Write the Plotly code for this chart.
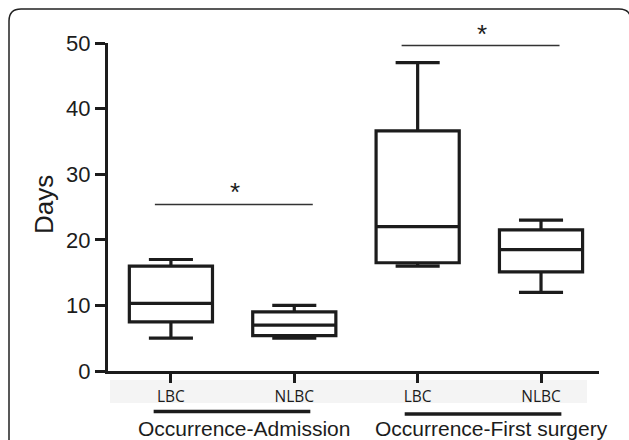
import plotly.graph_objects as go

# ---- data ----
categories = ["LBC", "NLBC", "LBC", "NLBC"]
groups = ["Occurrence-Admission", "Occurrence-First surgery"]
lower_whisker = [5.0, 5.0, 16.0, 12.0]
q1_values = [7.5, 5.4, 16.5, 15.1]
median_values = [10.3, 7.0, 22.0, 18.5]
q3_values = [16.0, 9.0, 36.6, 21.5]
upper_whisker = [17.0, 10.0, 47.0, 23.0]
sig_heights = [25.4, 49.6]
sig_labels = ["*", "*"]
y_ticks = [0, 10, 20, 30, 40, 50]

positions = list(range(1, len(categories) + 1))
INK = "#1c1c1c"

W, H = 629, 440
ML, MR, MT, MB = 108, 30, 43, 69
PW, PH = W - ML - MR, H - MT - MB


def px_x(px):
    return (px - ML) / PW


def px_y(py):
    return (H - MB - py) / PH


fig = go.Figure()
fig.add_trace(go.Box(
    x=positions,
    q1=q1_values, median=median_values, q3=q3_values,
    lowerfence=lower_whisker, upperfence=upper_whisker,
    width=0.674, whiskerwidth=0.53,
    fillcolor="white",
    line=dict(color=INK, width=3.2),
    boxpoints=False, showlegend=False, hoverinfo="skip",
))

shapes = []
annotations = []

# significance lines
for g, (h, lab) in enumerate(zip(sig_heights, sig_labels)):
    a, b = positions[2 * g], positions[2 * g + 1]
    shapes.append(dict(type="line", xref="x", yref="y",
                       x0=a - 0.13, x1=b + 0.15, y0=h, y1=h,
                       line=dict(color="#333333", width=1.5)))
    annotations.append(dict(x=(a + b) / 2 + 0.02, y=h, xref="x", yref="y",
                            text=lab, showarrow=False, yanchor="bottom",
                            xanchor="center", yshift=-5,
                            font=dict(family="Liberation Sans, Arial", size=26, color=INK)))

# group underlines and labels
under_y = [px_y(411.5), px_y(414)]
for g, name in enumerate(groups):
    a, b = positions[2 * g], positions[2 * g + 1]
    off = 0.0 if g == 0 else 0.035
    shapes.append(dict(type="line", xref="x", yref="paper",
                       x0=a - 0.14 + off, x1=b + 0.13 + off, y0=under_y[g], y1=under_y[g],
                       line=dict(color=INK, width=3.5)))
    annotations.append(dict(x=(a + b) / 2 + (0.09 if g == 0 else 0.1), y=px_y(428),
                            xref="x", yref="paper", text=name, showarrow=False,
                            xanchor="center", yanchor="middle",
                            font=dict(family="Liberation Sans, Arial", size=21, color=INK)))

# faint band behind category labels
shapes.append(dict(type="rect", xref="paper", yref="paper", layer="below",
                   x0=px_x(110), x1=px_x(587), y0=px_y(403), y1=px_y(380),
                   fillcolor="#f4f4f4", line=dict(width=0)))

# rounded frame
r = 12
l, t, rr, bb = 9, 9, 631, 446
path = (f"M {px_x(l)} {px_y(bb)} L {px_x(l)} {px_y(t + r)} "
        f"Q {px_x(l)} {px_y(t)} {px_x(l + r)} {px_y(t)} "
        f"L {px_x(rr - r)} {px_y(t)} Q {px_x(rr)} {px_y(t)} {px_x(rr)} {px_y(t + r)} "
        f"L {px_x(rr)} {px_y(bb)} Z")
shapes.append(dict(type="path", xref="paper", yref="paper", path=path,
                   line=dict(color="#222222", width=1.5)))

# y-axis title
annotations.append(dict(x=px_x(44), y=px_y(205), xref="paper", yref="paper",
                        text="Days", textangle=-90, showarrow=False,
                        xanchor="center", yanchor="middle",
                        font=dict(family="Liberation Sans, Arial", size=26, color=INK)))

fig.update_layout(
    width=W, height=H,
    margin=dict(l=ML, r=MR, t=MT, b=MB, pad=0),
    paper_bgcolor="white", plot_bgcolor="white",
    shapes=shapes, annotations=annotations,
    xaxis=dict(range=[0.49, 4.47], tickvals=positions, ticktext=categories,
               showline=True, linecolor=INK, linewidth=3,
               ticks="outside", ticklen=9, tickwidth=3, tickcolor=INK,
               showgrid=False, zeroline=False,
               tickfont=dict(family="Open Sans", size=15.5, color=INK)),
    yaxis=dict(range=[0, 50], tickvals=y_ticks,
               showline=True, linecolor=INK, linewidth=3,
               ticks="outside", ticklen=10, tickwidth=3, tickcolor=INK,
               showgrid=False, zeroline=False,
               tickfont=dict(family="Liberation Sans, Arial", size=22, color=INK)),
)

fig.write_html("out.html", config={"displayModeBar": False},
               post_script="document.body.style.margin='0px';document.body.style.overflow='hidden';")
